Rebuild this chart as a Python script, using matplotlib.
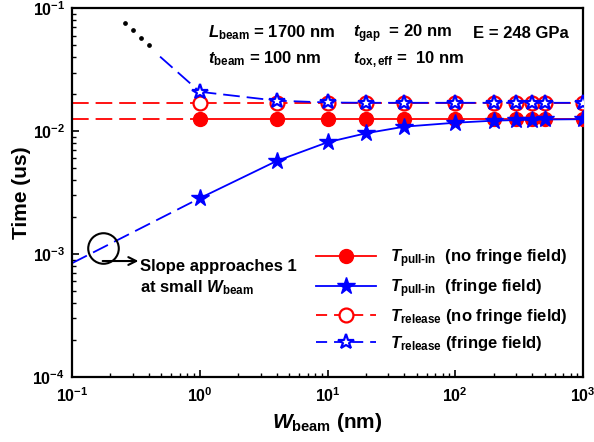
import matplotlib
matplotlib.use("Agg")
import matplotlib.pyplot as plt
from matplotlib.lines import Line2D

plt.rcParams['font.family'] = ['Liberation Sans', 'DejaVu Sans']
plt.rcParams['font.weight'] = 'bold'
plt.rcParams['mathtext.fontset'] = 'custom'
plt.rcParams['mathtext.rm'] = 'Liberation Sans:bold'
plt.rcParams['mathtext.it'] = 'Liberation Sans:bold:italic'
plt.rcParams['mathtext.bf'] = 'Liberation Sans:bold'
plt.rcParams['lines.scale_dashes'] = False

# ---- data ----
W = [1, 4, 10, 20, 40, 100, 200, 300, 400, 500, 1000]
pull_nofringe = [0.01256, 0.01256, 0.01256, 0.01256, 0.01256, 0.01256, 0.01256, 0.01256, 0.01256, 0.01256, 0.01256]
pull_fringe = [0.00284, 0.00571, 0.00811, 0.0096, 0.01087, 0.0117, 0.01216, 0.0123, 0.01238, 0.01243, 0.0125]
rel_nofringe = [0.0170, 0.0170, 0.0170, 0.0170, 0.0170, 0.0170, 0.0170, 0.0170, 0.0170, 0.0170, 0.0170]
rel_fringe = [0.0209, 0.0177, 0.0171, 0.0170, 0.0170, 0.0170, 0.0170, 0.0170, 0.0170, 0.0170, 0.0170]

# extrapolated parts
W_ext = [0.1, 1]
pull_nofringe_ext = [0.01256, 0.01256]
rel_nofringe_ext = [0.0170, 0.0170]
pull_fringe_ext = [0.00084, 0.00284]
W_rel_fringe_ext = [0.489, 1]
rel_fringe_ext = [0.0404, 0.0209]
W_dots = [0.261, 0.302, 0.347, 0.401]
rel_dots = [0.0763, 0.0662, 0.0576, 0.0500]

yticks = [1e-4, 1e-3, 1e-2, 1e-1]
yticklabels = [r'$\mathbf{10^{-4}}$', r'$\mathbf{10^{-3}}$', r'$\mathbf{10^{-2}}$', r'$\mathbf{10^{-1}}$']
xticks = [0.1, 1, 10, 100, 1000]
xticklabels = [r'$\mathbf{10^{-1}}$', r'$\mathbf{10^{0}}$', r'$\mathbf{10^{1}}$', r'$\mathbf{10^{2}}$', r'$\mathbf{10^{3}}$']

RED = '#ff0000'
BLUE = '#0000ff'
DASH = (12, 5)

fig = plt.figure(figsize=(5.94, 4.42), dpi=100)
ax = fig.add_axes([72/594, (442-376.7)/442, 511/594, 368.4/442])
ax.set_xscale('log')
ax.set_yscale('log')
ax.set_xlim(0.1, 1000)
ax.set_ylim(1e-4, 1e-1)

lw = 1.3
# extrapolations
ax.plot(W_ext, rel_nofringe_ext, color=RED, lw=lw, dashes=DASH, zorder=2)
ax.plot(W_ext, pull_nofringe_ext, color=RED, lw=lw, dashes=DASH, zorder=2)
ax.plot(W_ext, pull_fringe_ext, color=BLUE, lw=lw, dashes=DASH, zorder=2)
ax.plot(W_rel_fringe_ext, rel_fringe_ext, color=BLUE, lw=lw, dashes=DASH, zorder=2)
ax.plot(W_dots, rel_dots, ls='none', marker='o', ms=2.4, color='black', zorder=2)

# main series
ax.plot(W, pull_nofringe, color=RED, lw=lw, marker='o', ms=10, mfc=RED, mec=RED, zorder=3)
ax.plot(W, rel_nofringe, color=RED, lw=lw, dashes=DASH, marker='o', ms=10, mfc='white', mec=RED, mew=1.6, zorder=3)
ax.plot(W, pull_fringe, color=BLUE, lw=lw, marker='*', ms=13, mfc=BLUE, mec=BLUE, zorder=4)
ax.plot(W, rel_fringe, color=BLUE, lw=lw, dashes=DASH, marker='*', ms=11.5, mfc='white', mec=BLUE, mew=1.6, zorder=4)

# axes styling
for s in ax.spines.values():
    s.set_linewidth(1.6)
ax.set_yticks(yticks)
ax.set_yticklabels(yticklabels, fontsize=11.5)
ax.set_xticks(xticks)
ax.set_xticklabels(xticklabels, fontsize=11.5)
ax.tick_params(which='major', direction='in', length=5, width=1.2, top=False, right=False, pad=7)
ax.tick_params(axis='y', which='major', pad=5)
ax.tick_params(which='minor', direction='in', length=3, width=1.0, top=False, right=False)
ax.set_xlabel(r'$W_{\rm beam}$ (nm)', fontsize=15, fontweight='bold', labelpad=4)
ax.set_ylabel('Time (us)', fontsize=15, fontweight='bold', labelpad=1)

# parameters text
fs = 12
ax.text(0.266, 0.920, r'$L_{\rm beam}$ = 1700 nm', transform=ax.transAxes, fontsize=fs, fontweight='bold', va='baseline')
ax.text(0.549, 0.920, r'$t_{\rm gap}$  = 20 nm', transform=ax.transAxes, fontsize=fs, fontweight='bold', va='baseline')
ax.text(0.785, 0.920, 'E = 248 GPa', transform=ax.transAxes, fontsize=fs, fontweight='bold', va='baseline')
ax.text(0.266, 0.8515, r'$t_{\rm beam}$ = 100 nm', transform=ax.transAxes, fontsize=fs, fontweight='bold', va='baseline')
ax.text(0.549, 0.8515, r'$t_{\rm ox,eff}$ =  10 nm', transform=ax.transAxes, fontsize=fs, fontweight='bold', va='baseline')

# annotation
ax.plot([0.0613], [0.3485], transform=ax.transAxes, marker='o', ms=22, mfc='none', mec='black', mew=1.5, clip_on=False, zorder=5)
ax.annotate('', xy=(0.130, 0.314), xytext=(0.060, 0.314), xycoords='axes fraction',
            arrowprops=dict(arrowstyle='->', color='black', lw=1.5, shrinkA=0, shrinkB=0, mutation_scale=14))
ax.text(0.133, 0.287, 'Slope approaches 1', transform=ax.transAxes, fontsize=fs, fontweight='bold', va='baseline')
ax.text(0.133, 0.228, r'at small $W_{\rm beam}$', transform=ax.transAxes, fontsize=fs, fontweight='bold', va='baseline')

# legend
handles = [
    Line2D([], [], color=RED, lw=lw, marker='o', ms=10, mfc=RED, mec=RED),
    Line2D([], [], color=BLUE, lw=lw, marker='*', ms=13, mfc=BLUE, mec=BLUE),
    Line2D([], [], color=RED, lw=lw, dashes=(8, 5), marker='o', ms=10, mfc='white', mec=RED, mew=1.6),
    Line2D([], [], color=BLUE, lw=lw, dashes=(8, 5), marker='*', ms=11.5, mfc='white', mec=BLUE, mew=1.6),
]
labels = [r'$T_{\rm pull\text{-}in}$  (no fringe field)',
          r'$T_{\rm pull\text{-}in}$  (fringe field)',
          r'$T_{\rm release}$ (no fringe field)',
          r'$T_{\rm release}$ (fringe field)']
ax.legend(handles, labels, loc='upper left', bbox_to_anchor=(0.465, 0.370), frameon=False,
          handlelength=3.6, handletextpad=0.8, labelspacing=0.45, borderaxespad=0,
          prop={'weight': 'bold', 'size': fs})

fig.savefig('out.png', dpi=100)
